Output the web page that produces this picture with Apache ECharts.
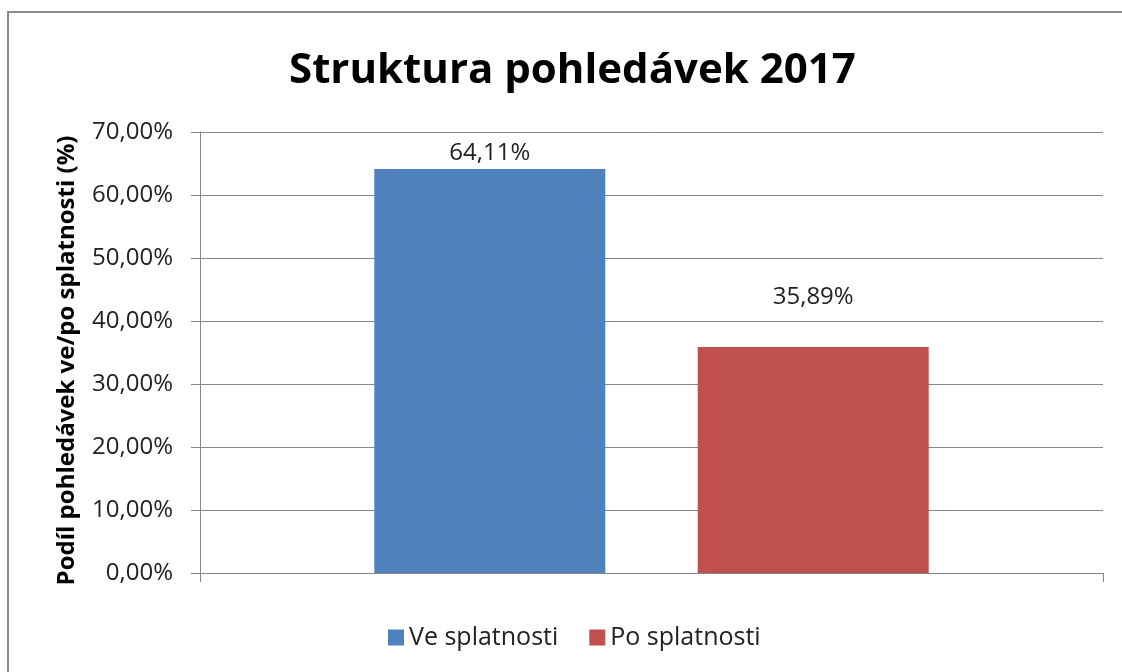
<!DOCTYPE html>
<html><head><meta charset="utf-8">
<script src="https://cdn.jsdelivr.net/npm/echarts@6/dist/echarts.min.js"></script>
<style>html,body{margin:0;padding:0;background:#fff}#c{width:1122px;height:672px}</style>
</head><body><div id="c"></div>
<script>
const title = 'Struktura pohledávek 2017';
const yAxisName = 'Podíl pohledávek ve/po splatnosti (%)';
const categories = [''];
const seriesNames = ['Ve splatnosti', 'Po splatnosti'];
const seriesValues = [[64.11], [35.89]];
const seriesColors = ['#4F81BD', '#C0504D'];
const fmt = v => v.toFixed(2).replace('.', ',') + '%';
const font = '"Open Sans", sans-serif';
const chart = echarts.init(document.getElementById('c'));
chart.setOption({
  animation: false,
  title: { text: title, left: 284, top: 45, textStyle: { fontFamily: font, fontSize: 42, fontWeight: 'bold', color: '#000' } },
  graphic: [{ type: 'rect', shape: { x: 8, y: 12, width: 1300, height: 800 }, style: { fill: 'none', stroke: '#8a8a8a', lineWidth: 2 }, silent: true }],
  legend: { top: 620, left: 383, itemWidth: 16, itemHeight: 16, itemGap: 31, icon: 'rect',
    textStyle: { fontFamily: font, fontSize: 25, color: '#222', padding: [0,0,0,0] }, data: seriesNames },
  grid: { left: 200, right: 19, top: 132, bottom: 99, containLabel: false },
  xAxis: { type: 'category', data: categories,
    axisLine: { lineStyle: { color: '#868686', width: 1 } },
    axisTick: { show: true, length: 9, lineStyle: { color: '#868686' } },
    axisLabel: { show: false } },
  yAxis: { type: 'value', min: 0, max: 70, interval: 10,
    name: yAxisName, nameLocation: 'middle', nameGap: 121,
    nameTextStyle: { fontFamily: font, fontSize: 24, fontWeight: 'bold', color: '#000', padding: [0, 16, 0, 0] },
    axisLine: { show: true, lineStyle: { color: '#868686' } },
    axisTick: { show: true, inside: false, length: 9, lineStyle: { color: '#868686' } },
    splitLine: { lineStyle: { color: '#868686', width: 1 } },
    axisLabel: { formatter: fmt, fontFamily: font, fontSize: 24, color: '#222', margin: 27 } },
  series: seriesNames.map((n, i) => ({
    name: n, type: 'bar', data: seriesValues[i], barWidth: 231, barGap: '40%',
    itemStyle: { color: seriesColors[i] },
    label: { show: true, position: 'top', distance: i === 0 ? 4 : 38, formatter: p => fmt(p.value), fontFamily: font, fontSize: 24, color: '#222' }
  }))
});
</script></body></html>
